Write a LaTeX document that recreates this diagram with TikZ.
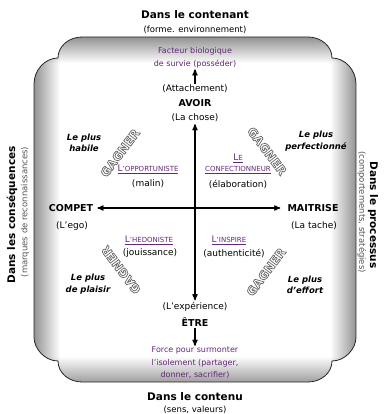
\documentclass[tikz,border=0pt]{standalone}
\usepackage{fontspec}
\setmainfont{DejaVu Sans}
\usepackage{tikz}
\usetikzlibrary{shapes}
\usetikzlibrary{arrows}
\definecolor{pourpre}{RGB}{100,40,120}
\definecolor{grisfonce}{RGB}{85,85,85}
\tikzset{
	texte/.style = {align=center, inner sep=1pt, font=\fontsize{9}{11}\selectfont},
	titre/.style = {texte, font=\fontsize{10.5}{12}\selectfont\bfseries},% titre des cotes
	soustitre/.style = {texte, font=\fontsize{8.5}{10}\selectfont},% sous-titre entre parentheses
	pole/.style = {texte, font=\fontsize{9.5}{11}\selectfont\bfseries},% avoir, etre, compet, maitrise
	besoin/.style = {texte, pourpre, font=\fontsize{8}{12.5}\selectfont},% texte violet haut et bas
	profil/.style = {texte, pourpre, font=\fontsize{9}{11}\selectfont},% profil souligne
	plus/.style = {texte, font=\fontsize{8.5}{11.5}\selectfont\bfseries\itshape},% le plus ...
	gagner/.style = {inner sep=0pt, white, font=\fontsize{12}{12}\selectfont\bfseries},% mot GAGNER
	fleche/.style = {->, line width=1.2pt}
}
% petites capitales faites a la main
\newcommand{\petit}[1]{{\fontsize{7}{9}\selectfont #1}}
% lettres creuses : fond blanc, trait gris
\newcommand{\creux}[1]{\special{pdf:literal direct 0.4 G 0.7 w 2 Tr}#1\special{pdf:literal direct 0 Tr}}
% contour du cadre
\newcommand{\cadre}{(82,37) -- (308,37)
	.. controls (321,37) and (332,46) .. (332,58)
	.. controls (345,58) and (356,70) .. (356,84)
	-- (356,337)
	.. controls (356,349) and (345,361) .. (332,361)
	.. controls (332,373) and (321,382) .. (308,382)
	-- (82,382)
	.. controls (69,382) and (58,373) .. (58,361)
	.. controls (45,361) and (34,349) .. (34,337)
	-- (34,84)
	.. controls (34,70) and (45,58) .. (58,58)
	.. controls (58,46) and (69,37) .. (82,37) -- cycle}

\begin{document}
\begin{tikzpicture}[>=stealth', x=1pt, y=-1pt]
	\useasboundingbox (0,0) rectangle (384,414);
	% cadre ombre
	\fill[white] \cadre;
	\begin{scope}
		\clip \cadre;
		\begin{scope}[blend mode=multiply]
			\shade[top color=gray!85, bottom color=white] (34,37) rectangle (356,63);
			\shade[top color=white, bottom color=gray!75] (34,356) rectangle (356,382);
			\shade[left color=gray!85, right color=white] (34,37) rectangle (60,382);
			\shade[left color=white, right color=gray!85] (330,37) rectangle (356,382);
		\end{scope}
	\end{scope}
	\draw[gray!30!black, line width=0.8pt] \cadre;

	% titres autour du cadre
	\node[titre] (contenant) at (195,15) {Dans le contenant};
	\node[soustitre] (forme) at (195,30) {(forme. environnement)};
	\node[titre] (contenu) at (195,397) {Dans le contenu};
	\node[soustitre] (sens) at (195,410) {(sens, valeurs)};
	\node[titre, rotate=90] (consequences) at (12,215) {Dans les conséquences};
	\node[soustitre, grisfonce, rotate=90] (marques) at (25,212) {(marques de reconnaissances)};
	\node[titre, rotate=-90] (processus) at (373,215) {Dans le processus};
	\node[soustitre, grisfonce, rotate=-90] (comportements) at (362,212) {(comportements, stratégies)};

	% axe vertical
	\node[besoin] (facteur) at (195,58) {Facteur biologique\\de survie (posséder)};
	\node[texte] (attachement) at (195,89) {(Attachement)};
	\node[pole] (avoir) at (195,103) {AVOIR};
	\node[texte] (chose) at (195,118) {(La chose)};
	\node[texte] (experience) at (195,307) {(L’expérience)};
	\node[pole] (etre) at (195,322) {ÊTRE};
	\node[besoin] (force) at (195,363) {Force pour surmonter\\l’isolement (partager,\\donner, sacrifier)};

	% axe horizontal
	\node[pole] (compet) at (71,208) {COMPET};
	\node[texte] (ego) at (72,226) {(L’ego)};
	\node[pole] (maitrise) at (313,208) {MAITRISE};
	\node[texte] (tache) at (314,226) {(La tache)};

	% profils
	\node[profil] (opportuniste) at (148,169) {\underline{L\petit{’OPPORTUNISTE}}};
	\node[texte] (malin) at (148,184) {(malin)};
	\node[profil] (confectionneur) at (238,164) {\underline{L\petit{E}}\\\underline{\petit{CONFECTIONNEUR}}};
	\node[texte] (elaboration) at (238,184) {(élaboration)};
	\node[profil] (hedoniste) at (149,240) {\underline{L\petit{’HEDONISTE}}};
	\node[texte] (jouissance) at (150,253) {(jouissance)};
	\node[profil] (inspire) at (229,240) {\underline{L\petit{’INSPIRE}}};
	\node[texte] (authenticite) at (234,253) {(authenticité)};

	% le plus ...
	\node[plus] (habile) at (84,143) {Le plus\\habile};
	\node[plus] (perfectionne) at (316,141) {Le plus\\perfectionné};
	\node[plus] (plaisir) at (88,284) {Le plus\\de plaisir};
	\node[plus] (effort) at (305,285) {Le plus\\d’effort};

	% GAGNER
	\node[gagner, rotate=53] (gagnerHG) at (120,153) {\creux{GAGNER}};
	\node[gagner, rotate=-53] (gagnerHD) at (267,151) {\creux{GAGNER}};
	\node[gagner, rotate=127] (gagnerBG) at (121,270) {\creux{GAGNER}};
	\node[gagner, rotate=53] (gagnerBD) at (266,272) {\creux{GAGNER}};

	% fleches
	\draw[fleche] (attachement) -- (facteur);
	\draw[fleche] (etre) -- (force);
	\draw[fleche, <->, shorten <=1pt, shorten >=1pt] (chose) -- (experience);
	\draw[fleche, <->, shorten <=3pt, shorten >=6pt] (compet) -- (maitrise);
\end{tikzpicture}
\end{document}
